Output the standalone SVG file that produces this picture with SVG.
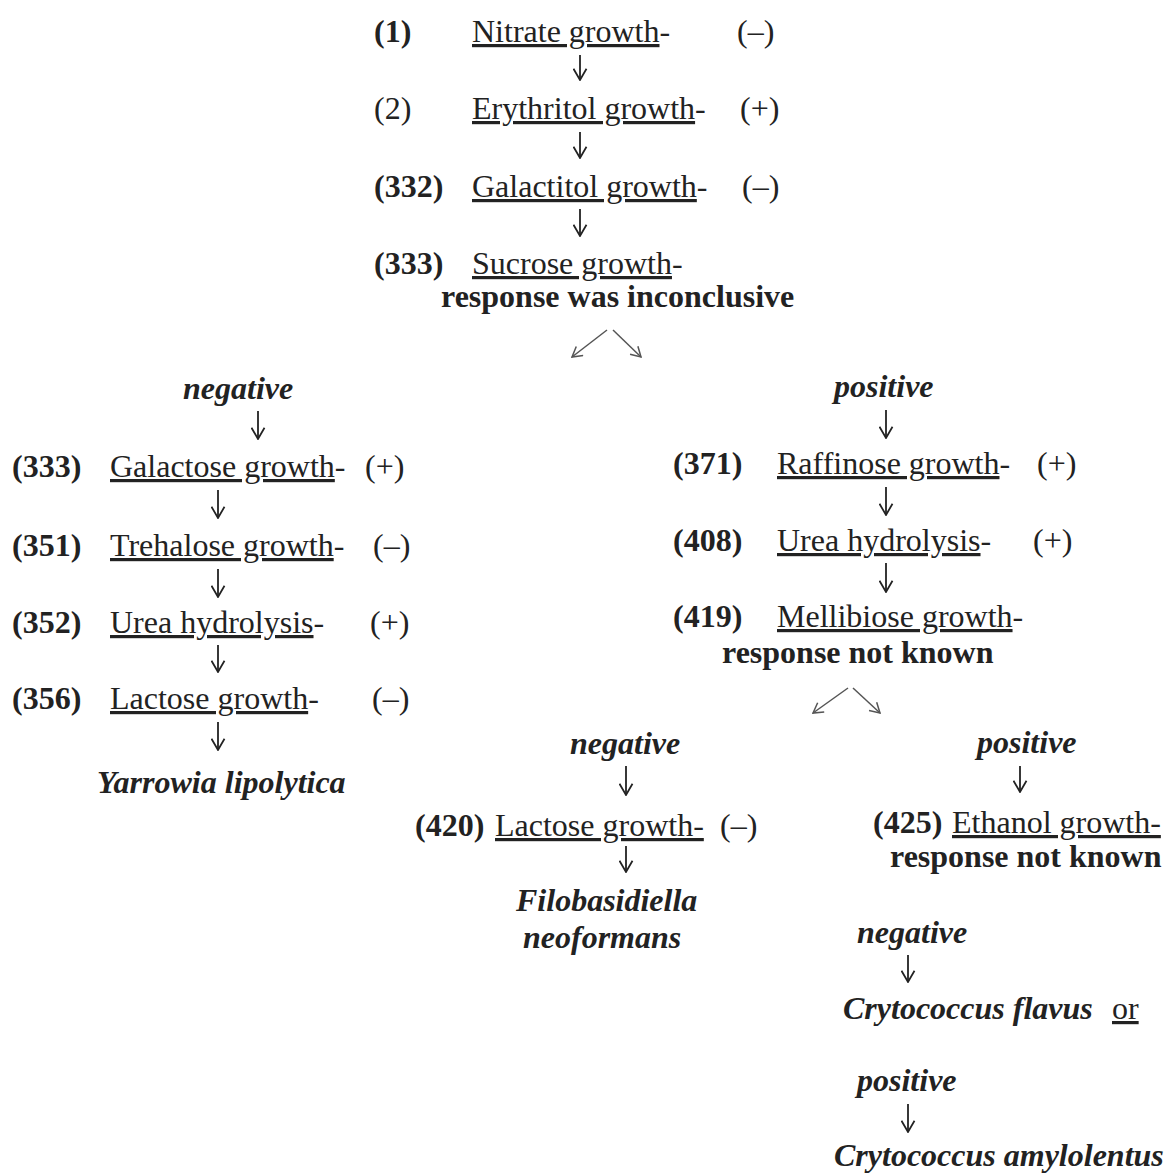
<svg xmlns="http://www.w3.org/2000/svg" width="1168" height="1176" viewBox="0 0 1168 1176">
<style>
text{font-family:"Liberation Serif","Times New Roman",serif;font-size:32px;fill:#222}
.b{font-weight:bold}
.bi{font-weight:bold;font-style:italic}
.u{text-decoration:underline}
.c{stroke:#222;stroke-width:1.8;fill:none}
.s{stroke:#555;stroke-width:1.5;fill:none}
</style>
<defs>
<marker id="ah" viewBox="0 0 12 12" refX="11" refY="6" markerWidth="15" markerHeight="15" markerUnits="userSpaceOnUse" orient="auto">
<path d="M2,0.8 L11,6 L2,11.2" fill="none" stroke="#222" stroke-width="1.4"/>
</marker>
<marker id="ahs" viewBox="0 0 12 12" refX="11" refY="6" markerWidth="13" markerHeight="13" markerUnits="userSpaceOnUse" orient="auto">
<path d="M2,0.8 L11,6 L2,11.2" fill="none" stroke="#555" stroke-width="1.4"/>
</marker>
</defs>
<rect width="1168" height="1176" fill="#fff"/>

<g id="n1"><text x="374" y="42" class="b">(1)</text><text x="472" y="42"><tspan class="u">Nitrate growth</tspan>-</text><text x="737" y="42">(–)</text></g>
<g id="n2"><text x="374" y="119">(2)</text><text x="472" y="119"><tspan class="u">Erythritol growth</tspan>-</text><text x="740" y="119">(+)</text></g>
<g id="n3"><text x="374" y="197" class="b">(332)</text><text x="472" y="197"><tspan class="u">Galactitol growth</tspan>-</text><text x="742" y="197">(–)</text></g>
<g id="n4"><text x="374" y="274" class="b">(333)</text><text x="472" y="274"><tspan class="u">Sucrose growth</tspan>-</text><text x="441" y="307" class="b">response was inconclusive</text></g>

<g id="negL"><text x="183" y="399" class="bi">negative</text></g>
<g id="L1"><text x="12" y="477" class="b">(333)</text><text x="110" y="477"><tspan class="u">Galactose growth</tspan>-</text><text x="365" y="477">(+)</text></g>
<g id="L2"><text x="12" y="556" class="b">(351)</text><text x="110" y="556"><tspan class="u">Trehalose growth</tspan>-</text><text x="373" y="556">(–)</text></g>
<g id="L3"><text x="12" y="633" class="b">(352)</text><text x="110" y="633"><tspan class="u">Urea hydrolysis</tspan>-</text><text x="370" y="633">(+)</text></g>
<g id="L4"><text x="12" y="709" class="b">(356)</text><text x="110" y="709"><tspan class="u">Lactose growth</tspan>-</text><text x="372" y="709">(–)</text></g>
<g id="yarrowia"><text x="97" y="793" class="bi">Yarrowia lipolytica</text></g>

<g id="posR"><text x="834" y="397" class="bi">positive</text></g>
<g id="R1"><text x="673" y="474" class="b">(371)</text><text x="777" y="474"><tspan class="u">Raffinose growth</tspan>-</text><text x="1037" y="474">(+)</text></g>
<g id="R2"><text x="673" y="551" class="b">(408)</text><text x="777" y="551"><tspan class="u">Urea hydrolysis</tspan>-</text><text x="1033" y="551">(+)</text></g>
<g id="R3"><text x="673" y="627" class="b">(419)</text><text x="777" y="627"><tspan class="u">Mellibiose growth</tspan>-</text><text x="722" y="663" class="b">response not known</text></g>

<g id="negM"><text x="570" y="754" class="bi">negative</text></g>
<g id="M1"><text x="415" y="836" class="b">(420)</text><text x="495" y="836"><tspan class="u">Lactose growth-</tspan></text><text x="720" y="836">(–)</text></g>
<g id="filo"><text x="516" y="911" class="bi">Filobasidiella</text><text x="523" y="948" class="bi">neoformans</text></g>

<g id="posM"><text x="977" y="753" class="bi">positive</text></g>
<g id="E1"><text x="873" y="833" class="b">(425)</text><text x="952" y="833"><tspan class="u">Ethanol growth-</tspan></text><text x="890" y="867" class="b">response not known</text></g>
<g id="negE"><text x="857" y="943" class="bi">negative</text></g>
<g id="flavus"><text x="843" y="1019" class="bi">Crytococcus flavus</text><text x="1112" y="1019" class="u">or</text></g>
<g id="posE"><text x="857" y="1091" class="bi">positive</text></g>
<g id="amylo"><text x="834" y="1166" class="bi">Crytococcus amylolentus</text></g>

<g id="connectors">
<path class="c" marker-end="url(#ah)" d="M580,55 V80"/>
<path class="c" marker-end="url(#ah)" d="M580,132 V158"/>
<path class="c" marker-end="url(#ah)" d="M580,209 V236"/>
<path class="s" marker-end="url(#ahs)" d="M607,330 L572,357"/>
<path class="s" marker-end="url(#ahs)" d="M613,330 L641,357"/>
<path class="c" marker-end="url(#ah)" d="M258,411 V439"/>
<path class="c" marker-end="url(#ah)" d="M218,490 V518"/>
<path class="c" marker-end="url(#ah)" d="M218,569 V597"/>
<path class="c" marker-end="url(#ah)" d="M218,645 V672"/>
<path class="c" marker-end="url(#ah)" d="M218,722 V750"/>
<path class="c" marker-end="url(#ah)" d="M886,410 V438"/>
<path class="c" marker-end="url(#ah)" d="M886,487 V515"/>
<path class="c" marker-end="url(#ah)" d="M886,563 V592"/>
<path class="s" marker-end="url(#ahs)" d="M848,688 L813,713"/>
<path class="s" marker-end="url(#ahs)" d="M853,688 L880,713"/>
<path class="c" marker-end="url(#ah)" d="M626,766 V795"/>
<path class="c" marker-end="url(#ah)" d="M626,846 V872"/>
<path class="c" marker-end="url(#ah)" d="M1020,766 V792"/>
<path class="c" marker-end="url(#ah)" d="M908,955 V982"/>
<path class="c" marker-end="url(#ah)" d="M908,1104 V1132"/>
</g>
</svg>
